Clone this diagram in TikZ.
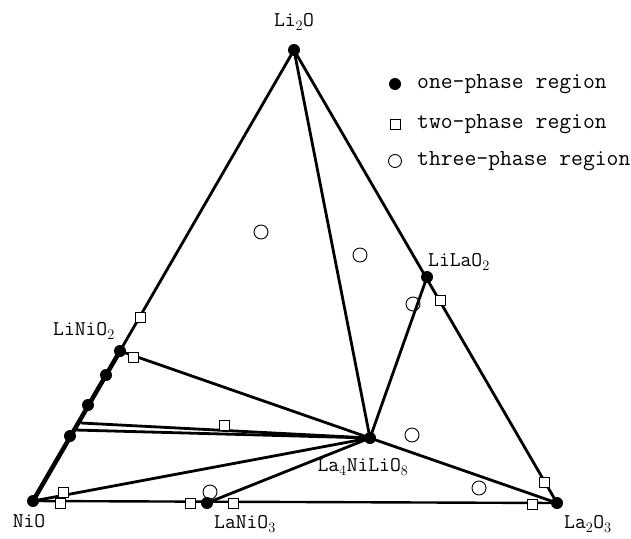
\documentclass[tikz,border=0pt]{standalone}
\usepackage{tikz}
\usetikzlibrary{positioning}
\tikzset{
  onephase/.style={circle, fill=black, inner sep=0pt, minimum size=12pt},
  twophase/.style={draw, rectangle, fill=white, inner sep=0pt, minimum size=10pt, line width=0.9pt},
  threephase/.style={draw, circle, inner sep=0pt, minimum size=14pt, line width=0.9pt},
  tie/.style={line width=2.8pt},
  lbl/.style={font=\fontsize{21}{21}\selectfont\ttfamily, inner sep=1pt},
  legendtext/.style={font=\fontsize{23}{23}\selectfont\ttfamily, anchor=west, inner sep=0pt}
}

\begin{document}
\begin{tikzpicture}[x=1pt, y=-1pt]
    \useasboundingbox (0,0) rectangle (631,538);

    % corners and compounds
    \coordinate (li2o) at (294,50);
    \coordinate (nio) at (33,501);
    \coordinate (la2o3) at (557,503);
    \coordinate (lilao2) at (427,277);
    \coordinate (linio2) at (120,351);
    \coordinate (la4) at (370,438);
    \coordinate (lanio3) at (207,503);
    \coordinate (e1) at (81,423);
    \coordinate (e2) at (75,430);

    % triangle edges
    \draw[tie] (li2o) -- (linio2);
    \draw[line width=4.5pt] (linio2) -- (nio);
    \draw[tie] (li2o) -- (la2o3);
    \draw[line width=2.4pt] (nio) -- (la2o3);

    % tie lines
    \draw[tie] (li2o) -- (la4);
    \draw[tie] (lilao2) -- (la4);
    \draw[tie] (la2o3) -- (la4);
    \draw[tie] (linio2) -- (la4);
    \draw[tie] (e1) -- (la4);
    \draw[tie] (e2) -- (la4);
    \draw[tie] (nio) -- (la4);
    \draw[tie] (lanio3) -- (la4);

    % one-phase points
    \foreach \p in {li2o, nio, la2o3, lilao2, linio2, la4, lanio3}
        \node[onephase] at (\p) {};
    \node[onephase] (d1) at (106,375) {};
    \node[onephase] (d2) at (88,405) {};
    \node[onephase] (d3) at (70,436) {};

    % two-phase points
    \foreach \x/\y in {140/317, 133/357, 224/425, 63/492, 60/503, 190/503, 233/503, 440/300, 544/482, 532/504}
        \node[twophase] at (\x,\y) {};

    % three-phase points
    \foreach \x/\y in {261/232, 360/255, 413/304, 412/435, 479/488, 210/492}
        \node[threephase] at (\x,\y) {};

    % labels
    \node[lbl] (tli2o) at (294,22) {Li$_2$O};
    \node[lbl] (tlilao2) at (459,262) {LiLaO$_2$};
    \node[lbl] (tlinio2) at (84,331) {LiNiO$_2$};
    \node[lbl] (tnio) at (29,521) {NiO};
    \node[lbl] (tla4) at (363,467) {La$_4$NiLiO$_8$};
    \node[lbl] (tlanio3) at (245,524) {LaNiO$_3$};
    \node[lbl] (tla2o3) at (588,524) {La$_2$O$_3$};

    % legend
    \node[onephase] (k1) at (395,84) {};
    \node[twophase] (k2) at (395,124) {};
    \node[threephase, minimum size=13pt] (k3) at (395,161) {};
    \node[legendtext] at (417,84) {one-phase region};
    \node[legendtext] at (417,124) {two-phase region};
    \node[legendtext] at (417,161) {three-phase region};
\end{tikzpicture}
\end{document}
